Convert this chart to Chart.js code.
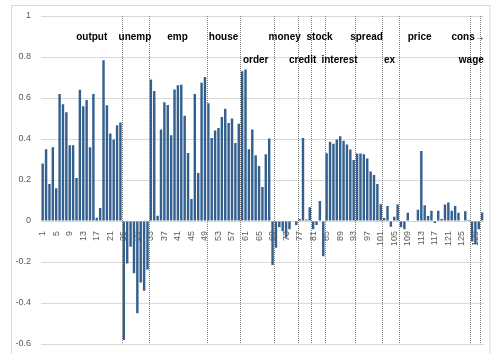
<!DOCTYPE html>
<html>
<head>
<meta charset="utf-8">
<script src="https://cdn.jsdelivr.net/npm/chart.js@4.4.1/dist/chart.umd.min.js"></script>
<style>
  html, body { margin: 0; padding: 0; background: #ffffff; }
  #wrap { width: 495px; height: 354px; }
</style>
</head>
<body>
<div id="wrap"><canvas id="c" width="495" height="354"></canvas></div>
<script>
// Category numbers along the x axis (one bar per series).
const categories = [];
for (let i = 1; i <= 131; i++) categories.push(String(i));

// Correlation of each series.
const values = [
  0.28, 0.35, 0.18, 0.36, 0.16, 0.62, 0.57, 0.53, 0.37, 0.37,
  0.21, 0.64, 0.56, 0.59, 0.36, 0.62, 0.016, 0.064, 0.784, 0.565,
  0.427, 0.398, 0.467, 0.48,
  -0.58, -0.207, -0.126, -0.255, -0.45, -0.30, -0.34, -0.236,
  0.69, 0.634, 0.026, 0.446, 0.579, 0.566, 0.418, 0.642, 0.662, 0.665,
  0.514, 0.332, 0.107, 0.62, 0.234, 0.675, 0.703,
  0.574, 0.405, 0.442, 0.454, 0.507, 0.548, 0.478, 0.50, 0.38, 0.475,
  0.73, 0.739, 0.35, 0.446, 0.321, 0.268, 0.166, 0.326, 0.402, -0.215,
  -0.13, -0.03, -0.05, -0.08, -0.04, 0, -0.02,
  0.01, 0.405, 0.007, 0.067,
  -0.04, -0.02, 0.098, -0.172,
  0.33, 0.386, 0.377, 0.397, 0.414, 0.391, 0.373, 0.349, 0.297,
  0.329, 0.329, 0.326, 0.305, 0.241, 0.224, 0.181, 0.082,
  0.015, 0.073, -0.028, 0.021, 0.081,
  -0.03, -0.04, 0.04, 0, -0.004, 0.055, 0.341, 0.077, 0.025, 0.05,
  -0.01, 0.05, 0.01, 0.08, 0.09, 0.05, 0.073, 0.04, 0, 0.047, 0.005,
  -0.10, -0.115, -0.04,
  0.042
];

// Y axis range and step.
const yMin = -0.6;
const yMax = 1;
const yStep = 0.2;

// Every fourth category number is printed.
const tickEvery = 4;

// Group separators: boundaries between categories (0-based index).
const dividers = [23.5, 31.5, 48.5, 58.5, 68.5, 75.5, 79.5, 83.5, 92.5, 100.5, 105.5, 126.5, 129.5];

// Group names, the category they sit over (0-based) and their height on the y scale.
const groupNames  = ['output', 'unemp', 'emp', 'house', 'money', 'stock', 'spread', 'price', 'cons\u2192',
                     'order', 'credit', 'interest', 'ex', 'wage'];
const groupAt     = [14.5, 27.3, 39.9, 53.5, 71.6, 81.9, 95.8, 111.5, 120.9,
                     63.0, 76.9, 87.8, 102.6, 126.8];
const groupLevel  = [0.898, 0.898, 0.898, 0.898, 0.898, 0.898, 0.898, 0.898, 0.898,
                     0.784, 0.784, 0.784, 0.784, 0.784];

const FONT = '"Liberation Sans", Arial, "DejaVu Sans", sans-serif';

const framePlugin = {
  id: 'frame',
  beforeDraw(chart) {
    const ctx = chart.ctx;
    ctx.save();
    ctx.fillStyle = '#ffffff';
    ctx.fillRect(0, 0, chart.width, chart.height);
    ctx.strokeStyle = '#d9d9d9';
    ctx.lineWidth = 1;
    ctx.strokeRect(11.5, 5.5, 478.5, 400);
    ctx.restore();
  }
};

const dividerPlugin = {
  id: 'dividers',
  afterDatasetsDraw(chart) {
    const ctx = chart.ctx;
    const xs = chart.scales.x, ys = chart.scales.y;
    const top = ys.getPixelForValue(yMax);
    const bottom = ys.getPixelForValue(yMin);
    ctx.save();
    ctx.strokeStyle = '#7f7f7f';
    ctx.lineWidth = 1;
    ctx.setLineDash([1, 1]);
    dividers.forEach(d => {
      const x = Math.round(xs.getPixelForValue(d)) + 0.5;
      ctx.beginPath();
      ctx.moveTo(x, top);
      ctx.lineTo(x, bottom);
      ctx.stroke();
    });
    ctx.restore();

    ctx.save();
    ctx.fillStyle = '#000000';
    ctx.font = 'bold 10px ' + FONT;
    ctx.textBaseline = 'middle';
    groupNames.forEach((name, i) => {
      const x = xs.getPixelForValue(groupAt[i]);
      const y = ys.getPixelForValue(groupLevel[i]);
      ctx.textAlign = name.startsWith('cons') ? 'left' : 'center';
      ctx.fillText(name, x, y);
    });
    ctx.restore();
  }
};

new Chart(document.getElementById('c'), {
  type: 'bar',
  data: {
    labels: categories,
    datasets: [{
      data: values,
      backgroundColor: '#34608f',
      borderWidth: 0,
      barPercentage: 0.72,
      categoryPercentage: 1.0
    }]
  },
  options: {
    responsive: false,
    animation: false,
    layout: { padding: { left: 1, right: 10, top: 16, bottom: 10 } },
    plugins: {
      legend: { display: false },
      tooltip: { enabled: false }
    },
    scales: {
      x: {
        position: { y: 0 },
        afterFit(scale) { scale.height = 0; },
        grid: { display: false },
        border: { display: false },
        ticks: {
          autoSkip: false,
          minRotation: 90,
          maxRotation: 90,
          padding: 2,
          color: '#595959',
          font: { family: FONT, size: 9 },
          callback: function (val, idx) {
            return idx % tickEvery === 0 ? categories[idx] : '';
          }
        }
      },
      y: {
        min: yMin,
        max: yMax,
        afterFit(scale) { scale.width = 40; },
        grid: { color: '#d9d9d9', drawTicks: true, tickLength: 10, tickColor: 'rgba(0,0,0,0)' },
        border: { display: false },
        ticks: {
          stepSize: yStep,
          padding: 0,
          color: '#595959',
          font: { family: FONT, size: 9 },
          callback: v => String(Number(v.toFixed(1)))
        }
      }
    }
  },
  plugins: [framePlugin, dividerPlugin]
});
</script>
</body>
</html>
